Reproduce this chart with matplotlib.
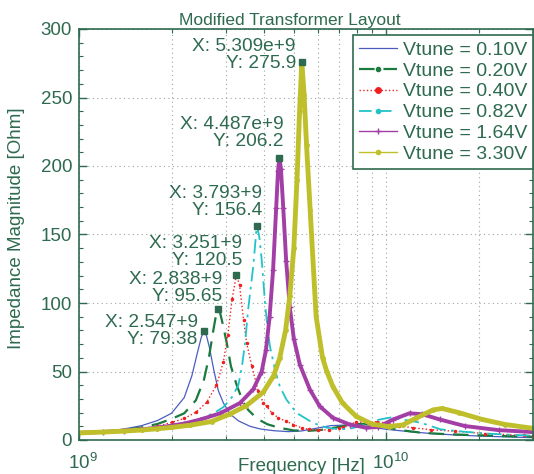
import matplotlib
matplotlib.use("Agg")
import matplotlib.pyplot as plt
from matplotlib.lines import Line2D
from matplotlib.ticker import LogLocator, NullFormatter, MultipleLocator
from matplotlib.transforms import ScaledTranslation

plt.rcParams['font.family'] = ['Liberation Sans', 'DejaVu Sans']
plt.rcParams['mathtext.fontset'] = 'custom'
plt.rcParams['mathtext.rm'] = 'Liberation Sans'
plt.rcParams['mathtext.it'] = 'Liberation Sans:italic'

TXT = '#2d6a4f'

# ---------------- data (frequency in GHz, impedance in Ohm) ----------------
f_010 = [1.0, 1.2, 1.4, 1.6, 1.8, 2.0, 2.2, 2.33, 2.43, 2.5, 2.547, 2.6, 2.66, 2.74,
         2.84, 2.95, 3.1, 3.3, 3.6, 3.9, 4.3, 4.8, 5.3, 5.9, 6.6, 7.4, 8.2, 9.0, 10,
         12, 14, 17, 20, 25, 30]
z_010 = [4.9, 6.2, 8.0, 10.5, 14.2, 19.5, 31, 47, 64, 75, 79.38, 76, 67, 52,
         36, 27, 19, 14, 10, 8.0, 6.8, 6.1, 6.6, 8.5, 10.5, 10.9, 10.2, 9.3, 7.8,
         6.0, 4.7, 3.6, 2.9, 2.2, 1.7]

f_020 = [1.0, 1.2, 1.4, 1.6, 1.8, 2.0, 2.2, 2.4, 2.55, 2.65, 2.74, 2.8, 2.838, 2.88,
         2.94, 3.03, 3.12, 3.26, 3.4, 3.55, 3.8, 4.1, 4.5, 5.0, 5.5, 6.1, 6.8, 7.5,
         8.3, 9.2, 10.2, 11.5, 13, 15.5, 19, 24, 30]
z_020 = [4.6, 5.7, 7.2, 9.2, 11.7, 15.4, 19.5, 29, 44, 61, 81, 93, 95.65, 92.5,
         84, 70, 54, 40, 29, 22, 15.5, 11.5, 8.8, 7.0, 6.6, 7.3, 9.0, 10.8,
         11.8, 11.0, 8.8, 6.8, 5.3, 4.3, 3.6, 2.9, 2.4]

f_040 = [1.0, 1.2, 1.4, 1.6, 1.8, 2.0, 2.2, 2.4, 2.6, 2.8, 2.95, 3.05, 3.15, 3.251,
         3.33, 3.43, 3.51, 3.65, 3.83, 3.98, 4.08, 4.24, 4.45, 4.73, 4.98, 5.3, 5.6,
         6.0, 6.5, 7.0, 7.2, 7.97, 9.3, 10, 11, 12.2, 14, 16.7, 21, 28, 30]
z_040 = [4.8, 5.6, 6.8, 8.2, 10.1, 12.8, 15.7, 20.3, 27.4, 39.9, 57, 77, 103, 120.5,
         113, 87.8, 70.8, 53.8, 35.6, 27.1, 24.6, 19.8, 16.2, 13.7, 11.3, 8.9, 7.8,
         7.1, 7.6, 8.8, 9.6, 13, 13.3, 12.5, 10.5, 8.9, 7.5, 6.4, 4.7, 3.3, 3.1]

f_082 = [1.0, 1.2, 1.4, 1.6, 1.8, 2.0, 2.2, 2.45, 2.74, 2.95, 3.14, 3.3, 3.39, 3.47,
         3.55, 3.69, 3.77, 3.793, 3.86, 3.93, 4.03, 4.1, 4.18, 4.34, 4.5, 4.73, 5.1,
         5.77, 6.4, 7.05, 7.7, 8.5, 9.3, 10.3, 11.3, 13, 15, 18, 22, 26, 30]
z_082 = [4.9, 5.6, 6.6, 7.7, 9.0, 10.8, 12.3, 15, 19.5, 24, 31, 40, 53.8, 70.8,
         95, 127, 151, 156.4, 148.5, 131.6, 100, 83, 68.4, 51.4, 39.2, 29.5, 19.8,
         12.5, 9, 7.7, 8.5, 11, 14.5, 16.4, 15, 12.5, 7.8, 6, 4.5, 3.7, 3.2]

f_164 = [1.0, 1.2, 1.4, 1.6, 1.8, 2.0, 2.2, 2.48, 2.88, 3.34, 3.69, 3.93, 4.06, 4.17,
         4.28, 4.38, 4.44, 4.487, 4.54, 4.62, 4.72, 4.85, 5.0, 5.23, 5.64, 6.07, 6.7,
         7.6, 8.6, 9.4, 10.5, 11.9, 13.1, 14.9, 18, 23.2, 30]
z_164 = [5.2, 5.9, 6.8, 7.8, 9.0, 10.5, 12.0, 14.9, 19.5, 27, 37, 50, 66, 90,
         124, 169, 196, 206.2, 198, 169, 131, 97, 74, 55, 36.8, 24.6, 16.2,
         11.3, 9.0, 9.5, 14.9, 19.5, 18.8, 15, 10.2, 7.2, 5.8]

f_330 = [1.0, 1.2, 1.4, 1.6, 1.8, 2.0, 2.3, 2.7, 3.1, 3.5, 3.98, 4.3, 4.5, 4.7,
         4.85, 5.0, 5.12, 5.22, 5.309, 5.4, 5.5, 5.65, 5.91, 6.2, 6.4, 6.7, 7.2,
         7.97, 9.0, 10.2, 11.3, 12.5, 14.2, 15.2, 17.2, 20.5, 24.4, 30]
z_330 = [5.2, 5.8, 6.5, 7.3, 8.2, 9.2, 10.8, 13.5, 19, 25, 35, 47, 60, 80,
         105, 140, 190, 240, 275.9, 252, 215, 168, 90, 60, 50, 39, 27,
         17.3, 11.5, 9.8, 11, 16, 22, 23, 20, 15, 11.3, 8.5]

labels = ['Vtune = 0.10V', 'Vtune = 0.20V', 'Vtune = 0.40V',
          'Vtune = 0.82V', 'Vtune = 1.64V', 'Vtune = 3.30V']

# data tips: (freq GHz, value, text)
tip_f = [2.547, 2.838, 3.251, 3.793, 4.487, 5.309]
tip_z = [79.38, 95.65, 120.5, 156.4, 206.2, 275.9]
tip_txt = ['X: 2.547+9\nY: 79.38', 'X: 2.838+9\nY: 95.65', 'X: 3.251+9\nY: 120.5',
           'X: 3.793+9\nY: 156.4', 'X: 4.487e+9\nY: 206.2', 'X: 5.309e+9\nY: 275.9']

title = 'Modified Transformer Layout'
xlabel = 'Frequency [Hz]'
ylabel = 'Impedance Magnitude [Ohm]'

# ---------------- figure ----------------
fig = plt.figure(figsize=(5.34, 4.74), dpi=100)
ax = fig.add_axes([79/534, 1-440/474, 454/534, 411/474])

ghz = lambda arr: [v * 1e9 for v in arr]

c_blue, c_green, c_red, c_cyan, c_mag, c_yel = '#4a5cc0', '#1b7a3e', '#f02020', '#22c3c8', '#a23ea6', '#bfbf2c'

ax.plot(ghz(f_010), z_010, '-', color=c_blue, lw=0.9)
ax.plot(ghz(f_020), z_020, '--', color=c_green, lw=1.6, dashes=(7, 4))
ax.plot(ghz(f_040), z_040, ':', color=c_red, lw=1.0, marker='.', ms=3)
ax.plot(ghz(f_082), z_082, '-.', color=c_cyan, lw=1.3, dashes=(8, 3, 1.5, 3))
ax.plot(ghz(f_164), z_164, '-', color=c_mag, lw=2.8, marker='+', ms=5, mew=1.0)
ax.plot(ghz(f_330), z_330, '-', color=c_yel, lw=3.5, marker='.', ms=5)

# data tips
offs = [(-6, 0), (4, 21), (6, 23), (5, 24), (4, 25), (-6, 7)]
for fq, zv, tx, (dx, dy) in zip(tip_f, tip_z, tip_txt, offs):
    ax.plot(fq * 1e9, zv, 's', color=TXT, ms=5, zorder=5)
    ax.annotate(tx, xy=(fq * 1e9, zv), xytext=(dx, dy), textcoords='offset pixels',
                ha='right', va='center', multialignment='right', color=TXT,
                fontsize=13.8, linespacing=1.0, zorder=6)

ax.set_xscale('log')
ax.set_xlim(1e9, 3e10)
ax.set_ylim(0, 300)
ax.yaxis.set_major_locator(MultipleLocator(50))
ax.yaxis.set_minor_locator(MultipleLocator(10))
ax.xaxis.set_major_locator(LogLocator(base=10))
ax.xaxis.set_minor_locator(LogLocator(base=10, subs=[2, 3, 4, 5, 6, 7, 8, 9]))
ax.xaxis.set_minor_formatter(NullFormatter())

ax.grid(which='both', axis='x', linestyle=(0, (1, 3)), color='#9aa8a2', lw=0.8)
ax.grid(which='major', axis='y', linestyle=(0, (1, 3)), color='#9aa8a2', lw=0.8)
ax.set_axisbelow(True)

ax.tick_params(which='both', direction='in', top=True, right=True, colors=TXT,
               labelsize=13.5)
ax.tick_params(axis='y', pad=5)
ax.tick_params(axis='x', pad=9)
ax.tick_params(which='major', length=6, width=1)
ax.tick_params(which='minor', length=3, width=0.8)
for s in ax.spines.values():
    s.set_color(TXT)
    s.set_linewidth(1.2)

shift = ScaledTranslation(4 / 100, 0, fig.dpi_scale_trans)
for lab in ax.get_xticklabels():
    lab.set_transform(lab.get_transform() + shift)

ax.set_title(title, color=TXT, fontsize=12.5, pad=3, x=0.465)
ax.set_xlabel(xlabel, color=TXT, fontsize=13.5)
ax.xaxis.set_label_coords(0.49, -0.045)
ax.set_ylabel(ylabel, color=TXT, fontsize=13.5)
ax.yaxis.set_label_coords(-0.118, 0.515)

handles = [
    Line2D([], [], color=c_blue, lw=0.9),
    Line2D([], [], color=c_green, lw=1.6, ls='--', dashes=(7, 4), marker='.', ms=6),
    Line2D([], [], color=c_red, lw=1.0, ls=':', marker='.', ms=8),
    Line2D([], [], color=c_cyan, lw=1.3, ls='--', dashes=(7, 4), marker='.', ms=6),
    Line2D([], [], color=c_mag, lw=1.0, marker='+', ms=5),
    Line2D([], [], color=c_yel, lw=1.0, marker='.', ms=6),
]
leg = ax.legend(handles, labels, loc='upper right', bbox_to_anchor=(1.0, 0.985),
                fontsize=14, handlelength=1.95, handletextpad=0.3, labelspacing=0.17,
                borderpad=0.3, borderaxespad=0.0, fancybox=False, framealpha=1,
                edgecolor=TXT, labelcolor=TXT)
leg.get_frame().set_linewidth(1.2)

fig.savefig('out.png', dpi=100)
